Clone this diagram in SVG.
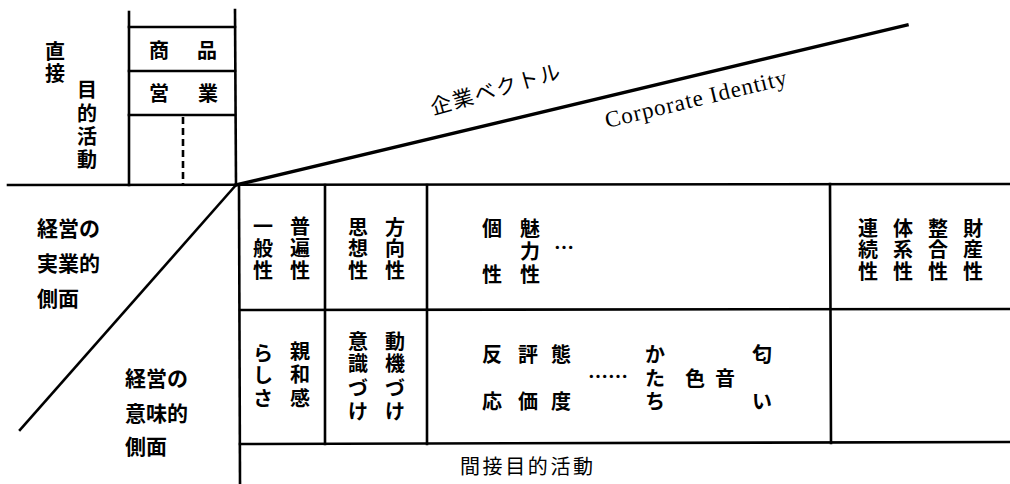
<svg xmlns="http://www.w3.org/2000/svg" width="1010" height="484" viewBox="0 0 1010 484">
<style>
.ln{stroke:#000;stroke-width:2.6;fill:none;stroke-linecap:square}
.dash{stroke:#000;stroke-width:2.6;stroke-dasharray:7 4;fill:none}
text{font-family:"Noto Sans CJK JP","Noto Sans CJK SC",sans-serif;font-weight:700;fill:#000}
.c{font-size:20px;text-anchor:middle;dominant-baseline:central}
.l{font-size:21px;text-anchor:start;dominant-baseline:central}
.en{font-family:"Liberation Serif",serif;font-weight:400;font-size:23px}
</style>
<rect width="1010" height="484" fill="#fff"/>
<g id="connectors">
<line class="ln" x1="8" y1="185" x2="1010" y2="184"/>
<line class="ln" x1="129" y1="12" x2="129" y2="185"/>
<line class="ln" x1="235" y1="10" x2="236" y2="185"/>
<line class="ln" x1="129" y1="27" x2="235" y2="27"/>
<line class="ln" x1="129" y1="71" x2="235" y2="71"/>
<line class="ln" x1="129" y1="115" x2="235" y2="115"/>
<line class="dash" x1="183" y1="117" x2="183" y2="185"/>
<line class="ln" x1="236" y1="185" x2="907" y2="25" style="stroke-width:3.4"/>
<line class="ln" x1="236" y1="185" x2="20" y2="430"/>
<line class="ln" x1="239" y1="185" x2="240" y2="484"/>
<line class="ln" x1="240" y1="310" x2="1010" y2="309"/>
<line class="ln" x1="240" y1="444" x2="1010" y2="442"/>
<line class="ln" x1="325" y1="185" x2="325" y2="444"/>
<line class="ln" x1="427" y1="185" x2="427" y2="444"/>
<line class="ln" x1="830" y1="184" x2="831" y2="443"/>
</g>
<g id="direct">
<text class="c"><tspan x="55" y="50">直</tspan><tspan x="55" y="72">接</tspan></text>
<text class="c"><tspan x="87" y="88">目</tspan><tspan x="87" y="112">的</tspan><tspan x="87" y="135">活</tspan><tspan x="87" y="158">動</tspan></text>
</g>
<g id="shohin"><text class="c"><tspan x="159" y="49">商</tspan><tspan x="207" y="49">品</tspan></text></g>
<g id="eigyo"><text class="c"><tspan x="159" y="92">営</tspan><tspan x="208" y="92">業</tspan></text></g>
<g id="vector">
<text x="433" y="115" transform="rotate(-16 433 115)" style="font-size:21px;font-weight:400" textLength="134">企業ベクトル</text>
<text class="en" x="607" y="128" transform="rotate(-13.5 607 128)" textLength="186">Corporate Identity</text>
</g>
<g id="practical">
<text class="l" x="37" y="227">経営の</text>
<text class="l" x="37" y="262">実業的</text>
<text class="l" x="37" y="297">側面</text>
</g>
<g id="meaning">
<text class="l" x="125" y="377">経営の</text>
<text class="l" x="125" y="412">意味的</text>
<text class="l" x="125" y="445">側面</text>
</g>
<g id="cell-universal">
<text class="c"><tspan x="263" y="225">一</tspan><tspan x="263" y="247">般</tspan><tspan x="263" y="269">性</tspan></text>
<text class="c"><tspan x="300" y="225">普</tspan><tspan x="300" y="247">遍</tspan><tspan x="300" y="269">性</tspan></text>
</g>
<g id="cell-thought">
<text class="c"><tspan x="358" y="226">思</tspan><tspan x="358" y="247">想</tspan><tspan x="358" y="269">性</tspan></text>
<text class="c"><tspan x="395" y="226">方</tspan><tspan x="395" y="247">向</tspan><tspan x="395" y="269">性</tspan></text>
</g>
<g id="cell-individual">
<text class="c"><tspan x="492" y="227">個</tspan><tspan x="492" y="273">性</tspan></text>
<text class="c"><tspan x="530" y="227">魅</tspan><tspan x="530" y="250">力</tspan><tspan x="530" y="273">性</tspan></text>
<text class="c" x="564" y="246">…</text>
</g>
<g id="cell-continuity">
<text class="c"><tspan x="868" y="227">連</tspan><tspan x="868" y="248">続</tspan><tspan x="868" y="270">性</tspan></text>
<text class="c"><tspan x="903" y="227">体</tspan><tspan x="903" y="248">系</tspan><tspan x="903" y="270">性</tspan></text>
<text class="c"><tspan x="938" y="227">整</tspan><tspan x="938" y="248">合</tspan><tspan x="938" y="270">性</tspan></text>
<text class="c"><tspan x="973" y="227">財</tspan><tspan x="973" y="248">産</tspan><tspan x="973" y="270">性</tspan></text>
</g>
<g id="cell-affinity">
<text class="c"><tspan x="263" y="352">ら</tspan><tspan x="263" y="374">し</tspan><tspan x="263" y="397">さ</tspan></text>
<text class="c"><tspan x="300" y="350">親</tspan><tspan x="300" y="373">和</tspan><tspan x="300" y="397">感</tspan></text>
</g>
<g id="cell-motivation">
<text class="c"><tspan x="358" y="340">意</tspan><tspan x="358" y="362">識</tspan><tspan x="358" y="387">づ</tspan><tspan x="358" y="410">け</tspan></text>
<text class="c"><tspan x="395" y="340">動</tspan><tspan x="395" y="362">機</tspan><tspan x="395" y="387">づ</tspan><tspan x="395" y="410">け</tspan></text>
</g>
<g id="cell-response">
<text class="c"><tspan x="492" y="353">反</tspan><tspan x="492" y="400">応</tspan></text>
<text class="c"><tspan x="528" y="353">評</tspan><tspan x="528" y="400">価</tspan></text>
<text class="c"><tspan x="561" y="353">態</tspan><tspan x="561" y="400">度</tspan></text>
<text class="c" x="608" y="375">……</text>
<text class="c"><tspan x="655" y="353">か</tspan><tspan x="655" y="377">た</tspan><tspan x="655" y="400">ち</tspan></text>
<text class="c" x="695" y="377">色</text>
<text class="c" x="725" y="377">音</text>
<text class="c"><tspan x="762" y="353">匂</tspan><tspan x="762" y="400">い</tspan></text>
</g>
<g id="indirect">
<text x="460" y="465" textLength="133" style="font-size:20px;font-weight:400;dominant-baseline:central">間接目的活動</text>
</g>
</svg>
